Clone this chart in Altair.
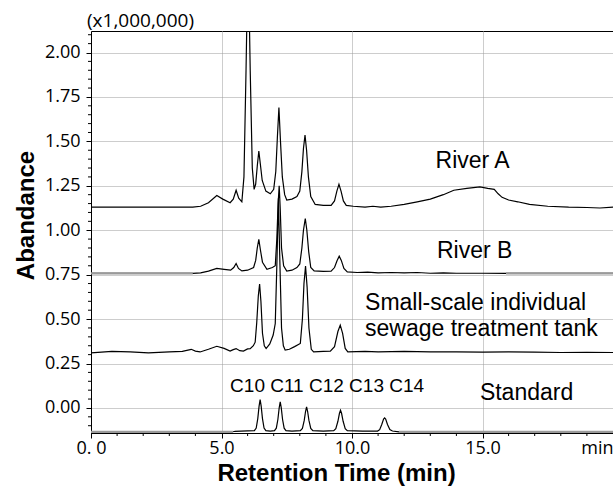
import altair as alt
import pandas as pd

# ---------------- data ----------------
river_a_t = [0, 3.9, 4.2, 4.5, 4.82, 5.05, 5.33, 5.45, 5.56, 5.66, 5.78, 5.86, 5.94, 6.02, 6.1, 6.18,
             6.25, 6.31, 6.37, 6.43, 6.49, 6.56, 6.7, 6.87, 7.0, 7.08, 7.14, 7.2, 7.26, 7.33, 7.42, 7.5,
             7.7, 7.89, 8.0, 8.08, 8.14, 8.2, 8.26, 8.33, 8.42, 8.59, 8.9, 9.2, 9.33, 9.42, 9.5, 9.58,
             9.67, 9.78, 10.05, 10.5, 10.8, 11.1, 11.5, 12.0, 12.5, 13.0, 13.5, 13.9, 14.4, 14.9, 15.2,
             15.45, 15.6, 15.75, 16.0, 16.35, 16.8, 17.5, 18.3, 19.0, 19.5, 20]
river_a_v = [1.13, 1.13, 1.135, 1.155, 1.195, 1.175, 1.155, 1.175, 1.225, 1.18, 1.16, 1.3, 1.9, 2.6, 1.9, 1.35,
             1.23, 1.26, 1.36, 1.445, 1.37, 1.28, 1.22, 1.205, 1.23, 1.33, 1.52, 1.69, 1.5, 1.3, 1.2, 1.17,
             1.175, 1.19, 1.22, 1.33, 1.46, 1.535, 1.45, 1.3, 1.19, 1.145, 1.14, 1.14, 1.165, 1.22, 1.258, 1.22,
             1.165, 1.14, 1.135, 1.13, 1.135, 1.13, 1.135, 1.145, 1.16, 1.175, 1.2, 1.225, 1.235, 1.244, 1.235,
             1.23, 1.205, 1.185, 1.17, 1.16, 1.145, 1.135, 1.13, 1.128, 1.125, 1.13]

river_b_t = [0, 3.9, 4.2, 4.5, 4.82, 5.1, 5.35, 5.47, 5.56, 5.65, 5.78, 6.0, 6.23, 6.31, 6.37, 6.43, 6.49,
             6.57, 6.74, 6.95, 7.06, 7.12, 7.17, 7.21, 7.25, 7.3, 7.38, 7.5, 7.7, 7.89, 8.0, 8.08, 8.14,
             8.21, 8.27, 8.34, 8.42, 8.55, 8.9, 9.2, 9.33, 9.43, 9.51, 9.59, 9.69, 9.82, 10.2, 10.6, 11.0,
             11.5, 12.0, 12.5, 13.0, 13.5, 14.0, 14.5, 15.0, 15.9, 20]
river_b_v = [0.757, 0.757, 0.76, 0.77, 0.785, 0.78, 0.775, 0.79, 0.813, 0.785, 0.771, 0.775, 0.79, 0.83, 0.9,
             0.948, 0.89, 0.82, 0.78, 0.79, 0.8, 0.95, 1.15, 1.25, 1.12, 0.9, 0.8, 0.77, 0.775, 0.79, 0.81,
             0.9, 1.0, 1.066, 1.0, 0.88, 0.79, 0.771, 0.768, 0.77, 0.79, 0.83, 0.854, 0.83, 0.785, 0.766,
             0.762, 0.764, 0.76, 0.762, 0.76, 0.762, 0.758, 0.76, 0.758, 0.758, 0.758, 0.757, 0.757]

tank_t = [0, 0.8, 1.5, 2.2, 3.0, 3.5, 3.84, 4.0, 4.18, 4.5, 4.82, 5.1, 5.33, 5.45, 5.56, 5.7, 5.84, 6.0,
          6.1, 6.22, 6.29, 6.35, 6.41, 6.46, 6.51, 6.57, 6.64, 6.71, 6.85, 6.98, 7.06, 7.12, 7.18, 7.24,
          7.3, 7.37, 7.44, 7.6, 7.8, 8.02, 8.1, 8.16, 8.22, 8.28, 8.35, 8.44, 8.53, 8.9, 9.17, 9.33, 9.46,
          9.55, 9.64, 9.74, 9.84, 10.5, 11.0, 12.0, 13.0, 14.0, 15.0, 16.0, 17.0, 18.0, 19.0, 20]
tank_v = [0.31, 0.318, 0.315, 0.31, 0.315, 0.318, 0.33, 0.32, 0.315, 0.33, 0.347, 0.335, 0.32, 0.328, 0.334,
          0.322, 0.32, 0.332, 0.334, 0.35, 0.37, 0.48, 0.63, 0.697, 0.6, 0.42, 0.35, 0.334, 0.36, 0.41,
          0.475, 0.8, 1.18, 0.8, 0.45, 0.35, 0.325, 0.33, 0.345, 0.363, 0.5, 0.7, 0.798, 0.68, 0.45, 0.33,
          0.315, 0.318, 0.32, 0.345, 0.43, 0.466, 0.42, 0.335, 0.315, 0.318, 0.315, 0.318, 0.315, 0.316,
          0.314, 0.315, 0.314, 0.312, 0.313, 0.312]

std_t = [0, 4.0, 4.2, 4.4, 5.5, 6.0, 6.26, 6.33, 6.39, 6.44, 6.48, 6.52, 6.57, 6.63, 6.7, 6.87,
         7.03, 7.1, 7.16, 7.21, 7.25, 7.29, 7.34, 7.4, 7.47, 7.7,
         8.02, 8.1, 8.17, 8.22, 8.26, 8.3, 8.35, 8.42, 8.5, 8.9,
         9.3, 9.38, 9.46, 9.52, 9.56, 9.6, 9.66, 9.74, 9.82, 10.4,
         10.98, 11.06, 11.14, 11.21, 11.25, 11.29, 11.36, 11.45, 11.55, 11.8, 20]
std_v = [-0.135, -0.135, -0.138, -0.133, -0.132, -0.129, -0.128, -0.113, -0.06, 0.01, 0.047, 0.01, -0.06, -0.113, -0.128, -0.13,
         -0.128, -0.114, -0.065, 0.0, 0.034, 0.0, -0.065, -0.114, -0.128, -0.13,
         -0.128, -0.115, -0.07, -0.02, 0.006, -0.02, -0.07, -0.115, -0.128, -0.13,
         -0.128, -0.117, -0.075, -0.03, -0.013, -0.03, -0.075, -0.117, -0.128, -0.13,
         -0.13, -0.122, -0.093, -0.062, -0.056, -0.062, -0.093, -0.122, -0.13, -0.135, -0.135]

# flat stretches that appear as grey lines in the original
flat_start = [0, 15.9, 0, 11.8]
flat_end = [3.9, 20, 5.45, 20]
flat_level = [0.757, 0.757, -0.135, -0.135]

# labels
center_labels = ["River A", "River B"]
center_label_t = [14.62, 14.7]
center_label_v = [1.35, 0.841]
left_labels = ["Small-scale individual", "sewage treatment tank", "Standard"]
left_label_t = [10.5, 10.5, 14.9]
left_label_v = [0.55, 0.404, 0.047]
peak_label_text = ["C10 C11 C12 C13 C14"]
peak_label_t = [5.33]
peak_label_v = [0.09]

x_major = [0, 5, 10, 15, 20]
y_major = [0, 0.25, 0.5, 0.75, 1.0, 1.25, 1.5, 1.75, 2.0]
x_minor_ticks = [1, 2, 3, 4, 6, 7, 8, 9, 11, 12, 13, 14, 16, 17, 18, 19]
y_minor_ticks = [-0.1, -0.05, 0.05, 0.1, 0.15, 0.2, 0.3, 0.35, 0.4, 0.45, 0.55, 0.6, 0.65, 0.7,
                 0.8, 0.85, 0.9, 0.95, 1.05, 1.1, 1.15, 1.2, 1.3, 1.35, 1.4, 1.45, 1.55, 1.6, 1.65,
                 1.7, 1.8, 1.85, 1.9, 1.95, 2.05, 2.1]

# ---------------- tables ----------------
rows = []
for name, ts, vs in [("River A", river_a_t, river_a_v), ("River B", river_b_t, river_b_v),
                     ("Tank", tank_t, tank_v), ("Standard", std_t, std_v)]:
    for t, v in zip(ts, vs):
        rows.append({"series": name, "t": t, "v": v})
traces = pd.DataFrame(rows)
flats = pd.DataFrame({"t": flat_start, "t2": flat_end, "v": flat_level})
clabels = pd.DataFrame({"t": center_label_t, "v": center_label_v, "text": center_labels})
llabels = pd.DataFrame({"t": left_label_t, "v": left_label_v, "text": left_labels})
plabels = pd.DataFrame({"t": peak_label_t, "v": peak_label_v, "text": peak_label_text})
x_minor = pd.DataFrame({"t": x_minor_ticks})
y_minor = pd.DataFrame({"v": y_minor_ticks})

W, H = 522, 402
xs = alt.Scale(domain=[0, 20], nice=False, zero=False)
ys = alt.Scale(domain=[-0.141, 2.121], nice=False, zero=False)

x_axis = alt.Axis(values=x_major,
                  labelExpr="datum.value == 0 ? '0. 0' : (datum.value == 20 ? 'min' : format(datum.value, '.1f'))",
                  labelFlush=False, labelAlign={"expr": "datum.value == 20 ? 'right' : 'center'"},
                  title="Retention Time (min)", titleX=245, titleY=47, titleAlign="center",
                  titleBaseline="alphabetic", titleFontSize=24, titleFontWeight="bold",
                  titleFont="Liberation Sans", grid=True, labelPadding=1)
y_axis = alt.Axis(values=y_major, format=".2f", title="Abandance", titleX=-58, titleY=184,
                  titleAngle=270, titleAlign="center", titleBaseline="alphabetic",
                  titleFontSize=24, titleFontWeight="bold", titleFont="Liberation Sans",
                  grid=True, labelPadding=6)

lines = alt.Chart(traces).mark_line(color="black", strokeWidth=1.2, clip=True).encode(
    x=alt.X("t:Q", scale=xs, axis=x_axis),
    y=alt.Y("v:Q", scale=ys, axis=y_axis),
    detail="series:N",
    order="t:Q",
)

flat_rules = alt.Chart(flats).mark_rule(color="#9a9a9a", strokeWidth=2.2).encode(
    x=alt.X("t:Q", scale=xs), x2="t2:Q", y=alt.Y("v:Q", scale=ys))

xminor = alt.Chart(x_minor).mark_rule(color="black", strokeWidth=1).encode(
    x=alt.X("t:Q", scale=xs), y=alt.value(H), y2=alt.value(H + 3))
yminor = alt.Chart(y_minor).mark_rule(color="black", strokeWidth=1).encode(
    y=alt.Y("v:Q", scale=ys), x=alt.value(-3), x2=alt.value(0))

ctext = alt.Chart(clabels).mark_text(font="Liberation Sans", fontSize=23, baseline="alphabetic",
                                     align="center", color="black").encode(
    x=alt.X("t:Q", scale=xs), y=alt.Y("v:Q", scale=ys), text="text:N")
ltext = alt.Chart(llabels).mark_text(font="Liberation Sans", fontSize=23, baseline="alphabetic",
                                     align="left", color="black").encode(
    x=alt.X("t:Q", scale=xs), y=alt.Y("v:Q", scale=ys), text="text:N")
peak_text = alt.Chart(plabels).mark_text(font="Liberation Sans", fontSize=19, baseline="alphabetic",
                                         align="left", color="black").encode(
    x=alt.X("t:Q", scale=xs), y=alt.Y("v:Q", scale=ys), text="text:N")

scale_note = alt.Chart(pd.DataFrame({"text": ["(x1,000,000)"]})).mark_text(
    font="Open Sans", fontSize=19, align="left", baseline="alphabetic", color="black").encode(
    x=alt.value(-4), y=alt.value(-4), text="text:N")

chart = alt.layer(lines, flat_rules, xminor, yminor, ctext, ltext, peak_text, scale_note).properties(
    width=W, height=H,
    padding={"left": 91, "top": 31, "right": 0, "bottom": 62},
    autosize=alt.AutoSizeParams(type="none"),
    background="white",
).configure_view(stroke="black", strokeWidth=1).configure_axis(
    domainColor="black", domainWidth=1, tickColor="black", tickSize=5, tickWidth=1,
    labelFont="Open Sans", labelFontSize=18, labelColor="black", titleColor="black",
    gridColor="#9a9a9a", gridDash=[1, 1], gridWidth=1,
)

chart.save("out.html", embed_options={"renderer": "svg", "actions": False})
